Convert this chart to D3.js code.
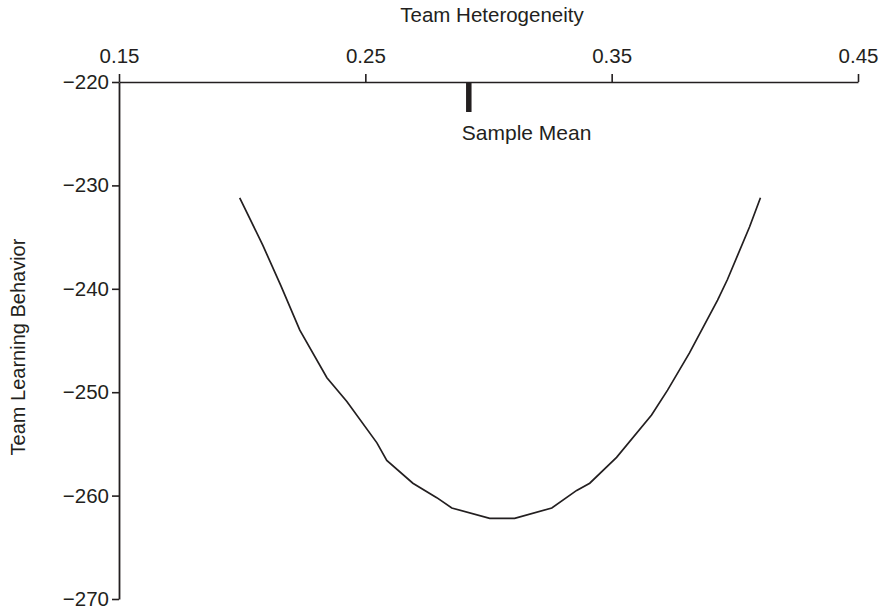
<!DOCTYPE html>
<html>
<head>
<meta charset="utf-8">
<script src="https://cdn.jsdelivr.net/npm/d3@7"></script>
<style>
  body { margin: 0; background: #fff; }
  text { font-family: "Liberation Sans", Arial, sans-serif; fill: #231f20; }
</style>
</head>
<body>
<svg id="chart" width="889" height="612"></svg>
<script>
// heterogeneity values along the curve
var hetero = [0.199, 0.2084, 0.2157, 0.2234, 0.2344, 0.2425, 0.2547, 0.2587, 0.2693, 0.279,
  0.2851, 0.3005, 0.3106, 0.3257, 0.3358, 0.3411, 0.352, 0.3662, 0.3727, 0.3816,
  0.393, 0.397, 0.406, 0.4104]
// predicted team learning behavior
var learning = [-231.2, -235.8, -239.7, -244.0, -248.6, -250.9, -254.9, -256.6, -258.8, -260.2,
  -261.2, -262.2, -262.2, -261.2, -259.5, -258.8, -256.3, -252.2, -249.8, -246.2,
  -241.1, -239.1, -234.0, -231.2]
var xTicks = [0.15, 0.25, 0.35, 0.45]
var yTicks = [-220, -230, -240, -250, -260, -270]
var sampleMean = 0.292

var svg = d3.select('#chart')
var ink = '#231f20'

var x = d3.scaleLinear().domain([0.15, 0.45]).range([119, 858])
var y = d3.scaleLinear().domain([-220, -270]).range([82, 599])

// top x axis
var xAxis = svg.append('g')
  .attr('transform', 'translate(0,82)')
  .call(d3.axisTop(x).tickValues(xTicks).tickFormat(d3.format('.2f')).tickSize(8).tickSizeOuter(0))
xAxis.select('.domain').attr('stroke', ink).attr('stroke-width', 1.6)
xAxis.selectAll('.tick line').attr('stroke', ink).attr('stroke-width', 1.6)
xAxis.selectAll('.tick text').attr('y', -19).attr('dy', 0).style('font-size', '20.5px').attr('fill', ink)

// left y axis
var yAxis = svg.append('g')
  .attr('transform', 'translate(119,0)')
  .call(d3.axisLeft(y).tickValues(yTicks).tickFormat(function(d){ return '\u2212' + Math.abs(d) }).tickSize(7).tickSizeOuter(0))
yAxis.select('.domain').attr('stroke', ink).attr('stroke-width', 1.8)
yAxis.selectAll('.tick line').attr('stroke', ink).attr('stroke-width', 1.6)
yAxis.selectAll('.tick text').attr('x', -10).style('font-size', '20.5px').attr('fill', ink)

// axis titles
svg.append('text')
  .attr('x', 492).attr('y', 22)
  .attr('text-anchor', 'middle')
  .style('font-size', '20.5px')
  .text('Team Heterogeneity')

svg.append('text')
  .attr('transform', 'translate(25,347) rotate(-90)')
  .attr('text-anchor', 'middle')
  .style('font-size', '20px')
  .text('Team Learning Behavior')

// sample mean marker
svg.append('line')
  .attr('x1', x(sampleMean)).attr('x2', x(sampleMean))
  .attr('y1', y(-220)).attr('y2', y(-222.9))
  .attr('stroke', ink)
  .attr('stroke-width', 5.5)

svg.append('text')
  .attr('x', x(sampleMean) - 7).attr('y', 140)
  .style('font-size', '21px')
  .text('Sample Mean')

// curve
var pts = hetero.map(function(d, i){ return [d, learning[i]] })
var line = d3.line()
  .x(function(d){ return x(d[0]) })
  .y(function(d){ return y(d[1]) })

svg.append('path')
  .datum(pts)
  .attr('d', line)
  .attr('fill', 'none')
  .attr('stroke', ink)
  .attr('stroke-width', 1.7)
</script>
</body>
</html>
